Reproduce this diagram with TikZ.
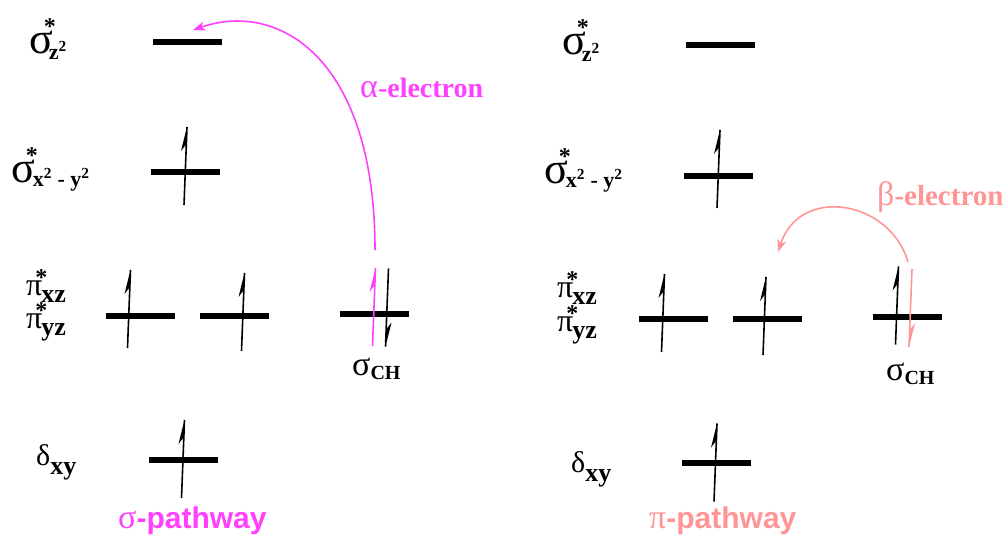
\documentclass[tikz,border=0pt]{standalone}
\usepackage{fontspec}
\setmainfont{Liberation Serif}
\newfontfamily\sansb{Liberation Sans}
\usetikzlibrary{arrows.meta}
\definecolor{mag}{RGB}{255,64,255}
\definecolor{pnk}{RGB}{255,150,150}
\tikzset{
  level/.style={fill=black,draw=none,minimum width=69pt,minimum height=6pt,inner sep=0pt},
  lab/.style={inner sep=0pt,anchor=base west},
  jump/.style={line width=1.6pt,-{Stealth[length=12pt,width=9pt,inset=3pt]}},
  pics/spin/.style={code={
    \draw[line width=1.6pt] (-1.5,39) -- (1.5,-39);
    \fill (1.6,-39.5) -- (-4.5,-15) -- (0.85,-22) -- cycle;
  }}
}
% #1 greek size, #2 greek, #3 kern after greek, #4 star raise (empty = no star), #5 star kern, #6 sub size, #7 sub drop, #8 sub text
\newcommand{\orb}[8]{%
  {\fontsize{#1}{#1}\selectfont #2}\kern#3%
  \ifx&#4&\else\rlap{\raisebox{#4}{\kern#5\fontsize{24}{24}\selectfont\bfseries *}}\fi
  \raisebox{-#7}{\fontsize{#6}{#6}\selectfont\bfseries #8}}
\newcommand{\szz}{\orb{44}{σ}{-4pt}{19pt}{-5pt}{22}{6pt}{z\textsuperscript{2}}}
\newcommand{\sxy}{\orb{44}{σ}{-2pt}{19pt}{-7pt}{22}{4pt}{x\textsuperscript{2} - y\textsuperscript{2}}}
\newcommand{\pxz}{\orb{32}{π}{-1pt}{10pt}{-6pt}{26}{7pt}{xz}}
\newcommand{\pyz}{\orb{32}{π}{-1pt}{10pt}{-6pt}{26}{7pt}{yz}}
\newcommand{\dxy}{\orb{30}{δ}{0pt}{}{}{26}{9pt}{xy}}
\newcommand{\sch}{\orb{34}{σ}{0pt}{}{}{20}{4pt}{CH}}
\begin{document}
\begin{tikzpicture}[x=1pt,y=-1pt]
\useasboundingbox (0,0) rectangle (1008,535);
% ---------- left panel ----------
\node[lab] (Llz) at (29,53) {\szz};
\node[lab] (Llx) at (11,182) {\sxy};
\node[lab] (Llp1) at (26,295) {\pxz};
\node[lab] (Llp2) at (26,328) {\pyz};
\node[lab] (Lld) at (36,465) {\dxy};
\node[lab] (Llch) at (352,375) {\sch};

\node[level] (Lz2) at (187,42) {};
\node[level] (Lx2) at (185,172) {};
\node[level] (Lp1) at (140,316) {};
\node[level] (Lp2) at (234,316) {};
\node[level] (Lch) at (374,314) {};
\node[level] (Ld) at (183,460) {};

\pic at (185.5,166) {spin};
\pic at (129,309) {spin};
\pic at (243,312) {spin};
\pic[rotate=180] at (387,307.5) {spin};
\pic[color=mag] at (374,307) {spin};
\pic at (183,459) {spin};

\coordinate (La) at (375,250);
\coordinate (Lb) at (193,30);
\draw[jump,mag] (La) .. controls (375,60) and (280,0) .. (Lb);
\node[lab,text=mag] (Lel) at (360,97) {{\fontsize{34}{34}\selectfont α}{\fontsize{28}{28}\selectfont\bfseries -electron}};
\node[lab,text=mag] (Lpw) at (118,528) {{\fontsize{34}{34}\selectfont σ}{\fontsize{30}{30}\selectfont\sansb\bfseries -pathway}};

% ---------- right panel ----------
\node[lab] (Rlz) at (562,55) {\szz};
\node[lab] (Rlx) at (544,183) {\sxy};
\node[lab] (Rlp1) at (557,297) {\pxz};
\node[lab] (Rlp2) at (557,331) {\pyz};
\node[lab] (Rld) at (571,472) {\dxy};
\node[lab] (Rlch) at (886,380) {\sch};

\node[level] (Rz2) at (720,45) {};
\node[level] (Rx2) at (718,176) {};
\node[level] (Rp1) at (673,319) {};
\node[level] (Rp2) at (767,319) {};
\node[level] (Rch) at (907,317) {};
\node[level] (Rd) at (716,463) {};

\pic at (718.5,169) {spin};
\pic at (663,313) {spin};
\pic at (764.5,316) {spin};
\pic at (897,305.5) {spin};
\pic[rotate=180,color=pnk] at (910.5,308) {spin};
\pic at (715.5,462.5) {spin};

\coordinate (Ra) at (908,262);
\coordinate (Rb) at (778,252);
\draw[jump,pnk] (Ra) .. controls (890,200) and (800,185) .. (Rb);
\node[lab,text=pnk] (Rel) at (877,205) {{\fontsize{34}{34}\selectfont β}{\fontsize{29}{29}\selectfont\bfseries -electron}};
\node[lab,text=pnk] (Rpw) at (649,528) {{\fontsize{34}{34}\selectfont π}{\fontsize{30}{30}\selectfont\sansb\bfseries -pathway}};
\end{tikzpicture}
\end{document}
